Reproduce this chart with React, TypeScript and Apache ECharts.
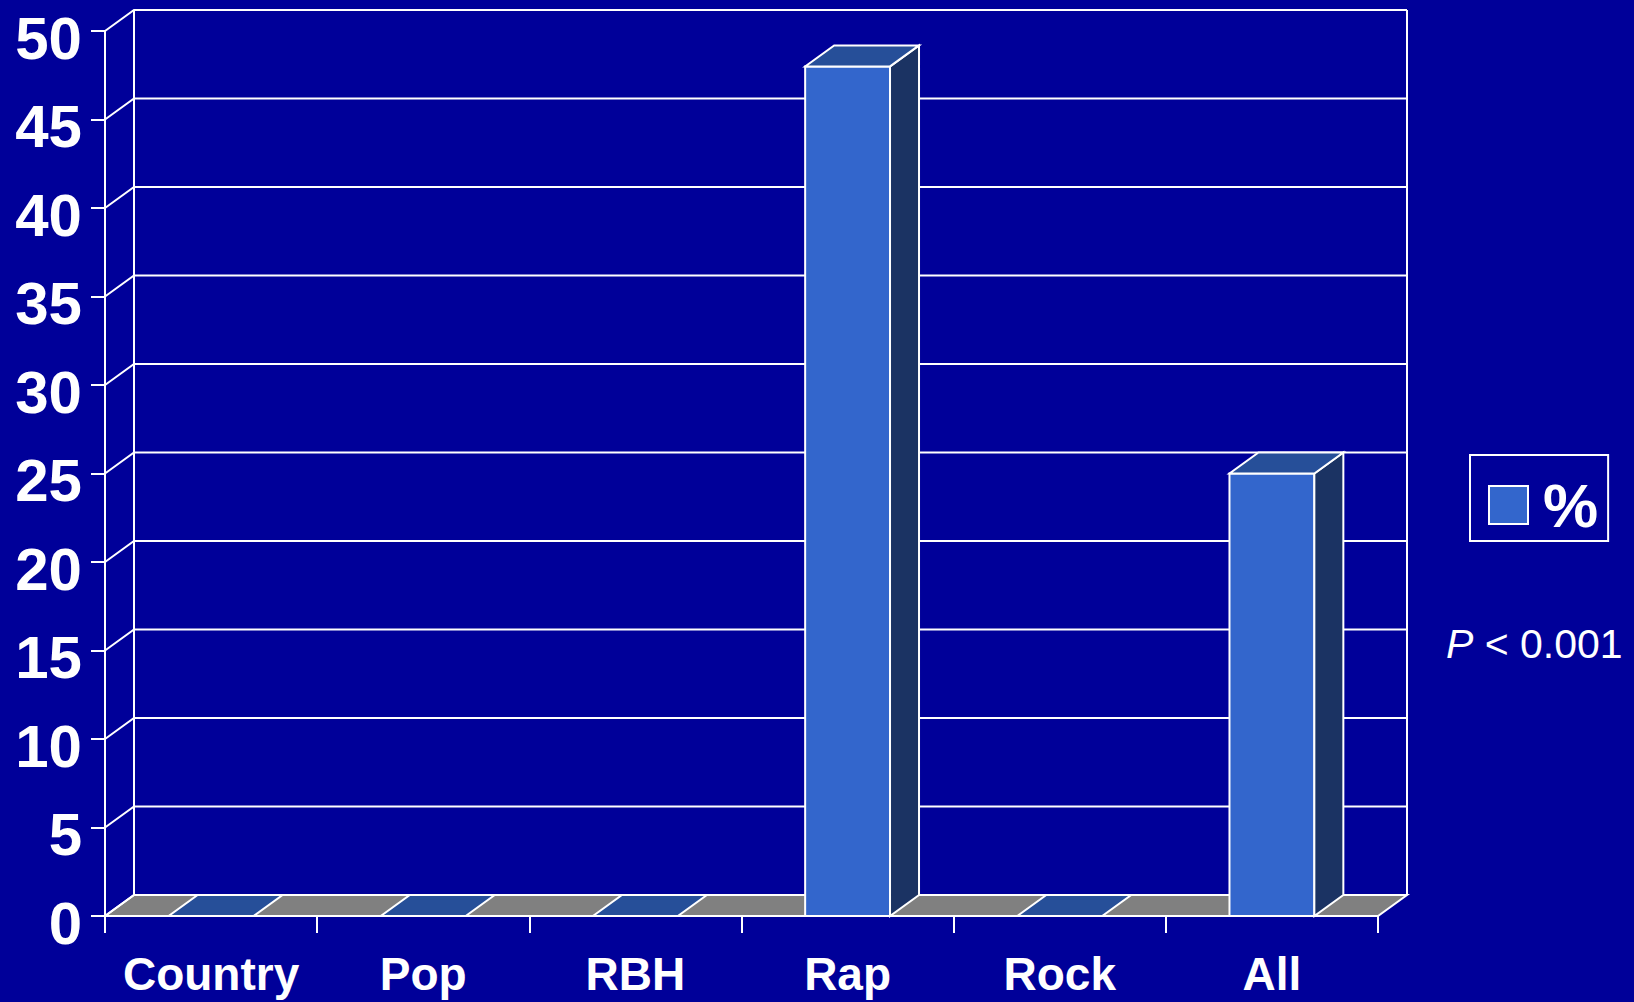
import React, { useEffect, useRef } from "react";
import * as echarts from "echarts";

const categories = ["Country", "Pop", "RBH", "Rap", "Rock", "All"];
const values = [0, 0, 0, 48, 0, 25];
const yTicks = [0, 5, 10, 15, 20, 25, 30, 35, 40, 45, 50];
const seriesName = "%";
const noteText = "P < 0.001";

const DX = 29;
const DY = 21;
const FONT = "'Liberation Sans', Arial, sans-serif";
const BG = "#000099";
const FRONT = "#3366cc";
const TOP = "#264f99";
const SIDE = "#1b3363";
const FLOOR = "#808080";

export default function App() {
  const ref = useRef<HTMLDivElement>(null);
  useEffect(() => {
    if (!ref.current) return;
    const chart = echarts.init(ref.current, undefined, { renderer: "svg" });
    const option: any = {
      animation: false,
      backgroundColor: BG,
      grid: {
        left: 105,
        right: 256,
        top: 31,
        bottom: 86,
        containLabel: false,
        outerBoundsMode: "none",
      },
      xAxis: {
        type: "category",
        data: categories,
        axisLine: { show: true, lineStyle: { color: "#fff", width: 2 } },
        axisTick: { show: true, length: 17, lineStyle: { color: "#fff", width: 2 } },
        axisLabel: {
          color: "#fff",
          fontSize: 46,
          fontWeight: "bold",
          fontFamily: FONT,
          margin: 35,
          interval: 0,
        },
        splitLine: { show: false },
      },
      yAxis: {
        type: "value",
        min: yTicks[0],
        max: yTicks[yTicks.length - 1],
        interval: yTicks[1] - yTicks[0],
        axisLine: { show: true, lineStyle: { color: "#fff", width: 2 } },
        axisTick: { show: true, length: 14, lineStyle: { color: "#fff", width: 2 } },
        axisLabel: {
          margin: 23,
          formatter: (v: number) => `{a|${v}}`,
          rich: {
            a: {
              color: "#fff",
              fontSize: 60,
              fontWeight: "bold",
              fontFamily: FONT,
              lineHeight: 60,
              padding: [14, 0, 0, 0],
            },
          },
        },
        splitLine: { show: false },
      },
      legend: {
        data: [{ name: seriesName, icon: "rect" }],
        left: 1470,
        top: 455,
        orient: "vertical",
        padding: [19, 10, 5, 18],
        borderColor: "#fff",
        borderWidth: 2,
        itemWidth: 39,
        itemHeight: 38,
        itemStyle: { color: FRONT, borderColor: "#fff", borderWidth: 2 },
        textStyle: {
          color: "#fff",
          fontSize: 62,
          fontWeight: "bold",
          fontFamily: FONT,
          lineHeight: 46,
          padding: [10, 0, 0, 10],
        },
        selectedMode: false,
      },
      graphic: [
        {
          type: "text",
          left: 1446,
          top: 623,
          style: {
            text: "{i|P}{n| < 0.001}",
            rich: {
              i: { fontStyle: "italic", fontSize: 41, fontFamily: FONT, fill: "#fff" },
              n: { fontSize: 41, fontFamily: FONT, fill: "#fff" },
            },
          },
          name: noteText,
        },
      ],
      series: [
        {
          name: "frame",
          type: "custom",
          z: 1,
          clip: false,
          silent: true,
          data: [[0, 0]],
          renderItem: (params: any, api: any) => {
            const cs = params.coordSys;
            const left = cs.x;
            const right = cs.x + cs.width;
            const bottom = cs.y + cs.height;
            const top = cs.y;
            const children: any[] = [];
            children.push({
              type: "polygon",
              shape: {
                points: [
                  [left, bottom],
                  [right, bottom],
                  [right + DX, bottom - DY],
                  [left + DX, bottom - DY],
                ],
              },
              style: { fill: FLOOR, stroke: "#fff", lineWidth: 2 },
            });
            yTicks.forEach((t) => {
              const y = api.coord([0, t])[1];
              children.push({
                type: "polyline",
                shape: {
                  points: [
                    [left, y],
                    [left + DX, y - DY],
                    [right + DX, y - DY],
                  ],
                },
                style: { fill: "none", stroke: "#fff", lineWidth: 2 },
              });
            });
            children.push({
              type: "line",
              shape: { x1: left + DX, y1: top - DY, x2: left + DX, y2: bottom - DY },
              style: { stroke: "#fff", lineWidth: 2 },
            });
            children.push({
              type: "line",
              shape: { x1: right + DX, y1: top - DY, x2: right + DX, y2: bottom - DY },
              style: { stroke: "#fff", lineWidth: 2 },
            });
            return { type: "group", children };
          },
        },
        {
          name: seriesName,
          type: "custom",
          z: 2,
          clip: false,
          itemStyle: { color: FRONT },
          data: values.map((v, i) => [i, v]),
          renderItem: (params: any, api: any) => {
            const idx = api.value(0);
            const v = api.value(1);
            const p = api.coord([idx, v]);
            const y0 = api.coord([idx, 0])[1];
            const bw = api.size([1, 0])[0] * 0.4;
            const x0 = p[0] - bw / 2;
            const x1 = p[0] + bw / 2;
            const yv = p[1];
            const children: any[] = [];
            if (v > 0) {
              children.push({
                type: "rect",
                shape: { x: x0, y: yv, width: bw, height: y0 - yv },
                style: { fill: FRONT, stroke: "#fff", lineWidth: 2 },
              });
              children.push({
                type: "polygon",
                shape: {
                  points: [
                    [x1, yv],
                    [x1 + DX, yv - DY],
                    [x1 + DX, y0 - DY],
                    [x1, y0],
                  ],
                },
                style: { fill: SIDE, stroke: "#fff", lineWidth: 2 },
              });
            }
            children.push({
              type: "polygon",
              shape: {
                points: [
                  [x0, yv],
                  [x1, yv],
                  [x1 + DX, yv - DY],
                  [x0 + DX, yv - DY],
                ],
              },
              style: { fill: TOP, stroke: "#fff", lineWidth: 2 },
            });
            return { type: "group", children };
          },
        },
      ],
    };
    chart.setOption(option);
    return () => chart.dispose();
  }, []);
  return (
    <div
      ref={ref}
      style={{ position: "fixed", left: 0, top: 0, width: 1634, height: 1002 }}
    />
  );
}
